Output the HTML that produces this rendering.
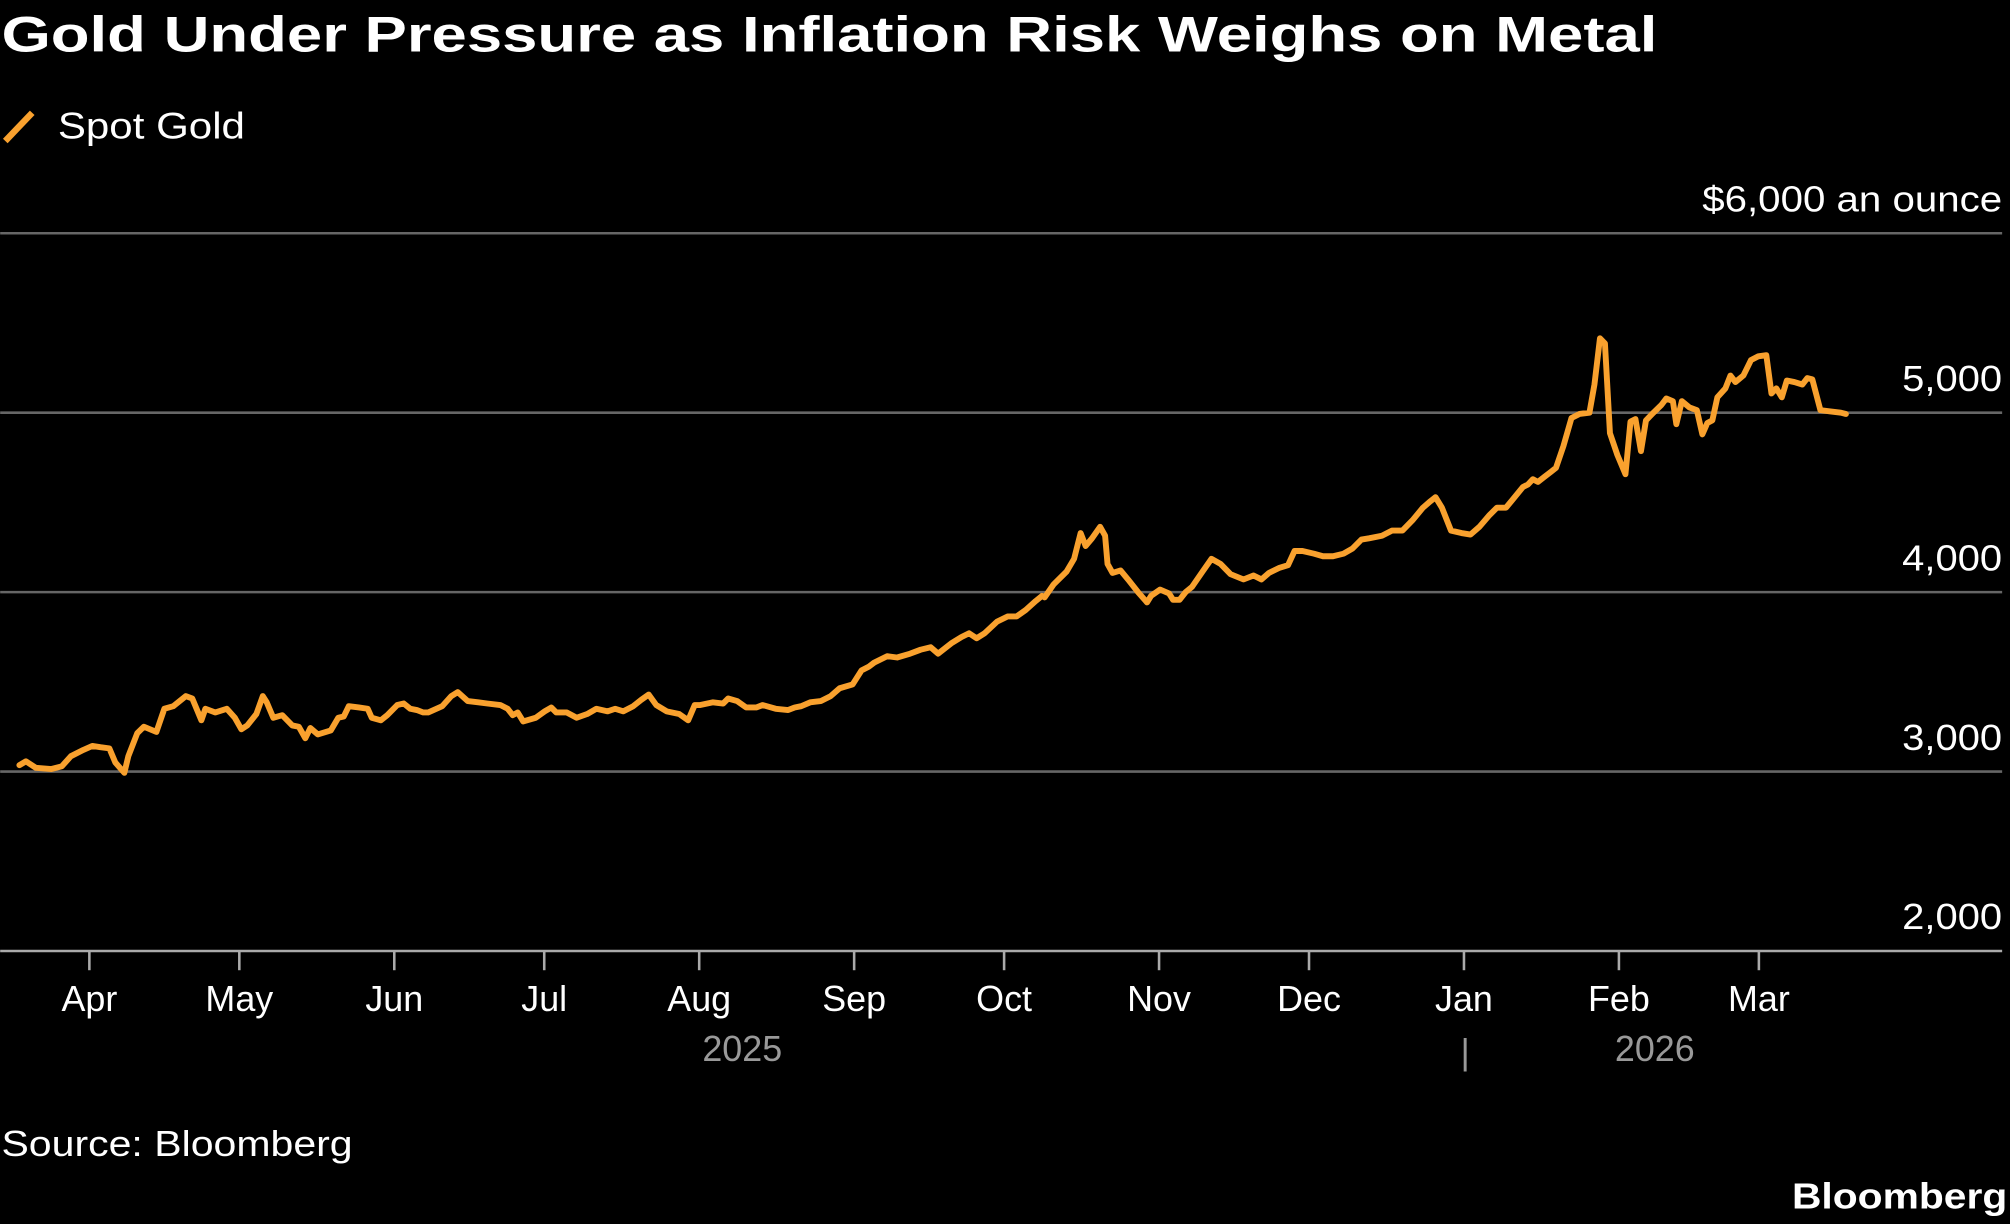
<!DOCTYPE html>
<html><head><meta charset="utf-8"><style>
html,body{margin:0;padding:0;background:#000;}
svg{display:block;}
text{font-family:"Liberation Sans",sans-serif;}
</style></head><body>
<svg id="chart" width="2010" height="1224" viewBox="0 0 1568 955" xmlns="http://www.w3.org/2000/svg">
<rect width="1568" height="955" fill="#000"/>
<text x="1" y="40" font-size="39" font-weight="bold" fill="#fff" textLength="1292" lengthAdjust="spacingAndGlyphs">Gold Under Pressure as Inflation Risk Weighs on Metal</text>
<g>
<line x1="4" y1="110" x2="25" y2="88" stroke="#f9a12e" stroke-width="5"/>
<text x="45" y="108" font-size="29" fill="#fff" textLength="146" lengthAdjust="spacingAndGlyphs">Spot Gold</text>
</g>
<text x="1562" y="165" font-size="28" fill="#fff" text-anchor="end" textLength="234" lengthAdjust="spacingAndGlyphs">$6,000 an ounce</text>
<g id="grid"></g>
<g id="xaxis"></g>
<path id="series" fill="none" stroke="#f9a12e" stroke-width="4.6" stroke-linejoin="round" stroke-linecap="round"/>
<text x="579" y="828" font-size="28" fill="#999" text-anchor="middle">2025</text>
<text x="1143" y="830" font-size="28" fill="#999" text-anchor="middle">|</text>
<text x="1291" y="828" font-size="28" fill="#999" text-anchor="middle">2026</text>
<text x="1" y="902" font-size="28" fill="#fff" textLength="274" lengthAdjust="spacingAndGlyphs">Source: Bloomberg</text>
<text x="1566" y="943" font-size="28" font-weight="bold" fill="#fff" text-anchor="end" textLength="168" lengthAdjust="spacingAndGlyphs">Bloomberg</text>
</svg>
<script>
const yTicks=[2000,3000,4000,5000,6000];
const yTickLabels=["2,000","3,000","4,000","5,000",""];
const monthLabels=["Apr","May","Jun","Jul","Aug","Sep","Oct","Nov","Dec","Jan","Feb","Mar"];
const monthDays=[14,44,75,105,136,167,197,228,258,289,320,348];
const days=[0,1.3,3.3,6.4,8.5,10.3,12.8,14.6,16.2,18,19.2,21,21.8,23.6,24.9,27.4,29,30.8,33.3,34.6,36.4,37.2,39.2,41.5,43.1,44.4,45.6,47.4,48.7,49.5,50.8,52.6,54.6,55.9,57.2,58.2,59.7,62.3,63.8,64.9,65.9,67.9,69.7,70.5,72.3,73.6,75.6,76.9,78.2,79.5,80.8,81.8,84.6,86.4,87.7,89.7,91.8,93.6,96.2,97.7,98.7,99.7,100.8,103.3,105.1,106.4,107.4,109.5,111.5,113.6,115.4,117.7,119.2,120.8,122.8,124.4,125.9,127.4,129.5,132,133.8,135.1,136.2,138.7,140.8,141.8,143.6,145.4,147.4,148.7,151.3,153.8,155.1,156.4,158.2,160.3,162.3,164.1,166.7,168.5,170,171,173.6,175.6,178.2,180.3,182.3,183.8,186.4,188.5,190,191.5,193.1,195.6,197.7,199.5,201.3,203.3,204.6,205.1,206.9,209.5,211,212.3,213.3,214.6,216.2,217.2,217.7,218.7,220.3,221.8,223.8,225.6,226.4,228.2,230,230.8,232.1,233.3,234.6,236.7,238.5,240.3,242.3,244.9,246.9,248.5,250,252.1,253.8,255.1,256.7,259,260.8,262.8,264.9,266.7,268.5,270,272.6,274.6,276.7,278.7,280.8,282.3,283.3,284.6,286.4,288.5,290.3,292.1,294.1,295.6,297.4,298.7,300.8,301.8,302.8,303.8,305.1,306.4,307.4,308.9,310.5,312.1,314.1,315.1,316.2,317.2,318.2,319.7,321.3,322.3,323.3,324.4,325.4,326.9,328.5,329.5,330.8,331.5,332.6,334.1,335.6,336.7,337.7,338.7,339.7,341.3,342.3,343.3,344.9,346.4,347.9,349.5,350.5,351.5,352.6,353.6,355.1,356.7,357.7,358.7,360.3,362.3,364.4,365.4];
const prices=[3036,3057,3021,3014,3029,3086,3121,3143,3136,3129,3050,2993,3086,3214,3250,3221,3350,3364,3421,3407,3286,3350,3329,3350,3300,3236,3257,3321,3421,3386,3300,3314,3257,3250,3186,3243,3207,3229,3300,3307,3364,3357,3350,3300,3286,3314,3371,3379,3350,3343,3329,3329,3364,3421,3443,3393,3386,3379,3371,3350,3314,3329,3279,3300,3336,3357,3329,3329,3300,3321,3350,3336,3350,3336,3364,3400,3429,3371,3336,3321,3286,3371,3371,3386,3379,3407,3393,3357,3357,3371,3350,3343,3357,3364,3386,3393,3421,3464,3486,3564,3586,3607,3643,3636,3657,3679,3693,3657,3714,3750,3771,3743,3771,3836,3864,3864,3900,3950,3979,3971,4043,4114,4186,4329,4257,4300,4364,4314,4157,4107,4121,4071,4000,3943,3979,4014,3993,3957,3957,4000,4029,4114,4186,4157,4100,4071,4093,4071,4107,4136,4150,4229,4229,4214,4200,4200,4214,4243,4293,4300,4314,4343,4343,4400,4471,4507,4529,4471,4343,4329,4321,4364,4429,4471,4471,4514,4586,4600,4629,4614,4643,4671,4693,4814,4971,4993,5000,5157,5414,5386,4886,4764,4657,4950,4964,4786,4957,5000,5043,5079,5064,4936,5064,5029,5014,4879,4943,4957,5086,5136,5207,5171,5207,5293,5314,5321,5107,5136,5086,5179,5171,5157,5193,5186,5014,5007,5000,4993];

function xScale(d){return 15+d*3.9;}
function yScale(v){return 742-(v-2000)*0.14;}
const NS="http://www.w3.org/2000/svg";
const grid=document.getElementById('grid');
yTicks.forEach((t,i)=>{
  const y=yScale(t);
  const l=document.createElementNS(NS,'line');
  l.setAttribute('x1',0);l.setAttribute('x2',1562);l.setAttribute('y1',y);l.setAttribute('y2',y);
  l.setAttribute('stroke',i===0?'#aaa':'#666');l.setAttribute('stroke-width',2);
  
  
  grid.appendChild(l);
  if(yTickLabels[i]){
    const tx=document.createElementNS(NS,'text');
    tx.setAttribute('x',1562);tx.setAttribute('y',y-17);tx.setAttribute('font-size',28);
    tx.setAttribute('fill','#fff');tx.setAttribute('text-anchor','end');
    tx.setAttribute('textLength',78);tx.setAttribute('lengthAdjust','spacingAndGlyphs');
    tx.textContent=yTickLabels[i];
    
    
    grid.appendChild(tx);
  }
});
const xa=document.getElementById('xaxis');
monthDays.forEach((d,i)=>{
  const x=xScale(d);
  const l=document.createElementNS(NS,'line');
  l.setAttribute('x1',x);l.setAttribute('x2',x);l.setAttribute('y1',742);l.setAttribute('y2',757);
  l.setAttribute('stroke','#aaa');l.setAttribute('stroke-width',2);
  
  
  xa.appendChild(l);
  const tx=document.createElementNS(NS,'text');
  tx.setAttribute('x',x);tx.setAttribute('y',789);tx.setAttribute('font-size',28);
  tx.setAttribute('fill','#fff');tx.setAttribute('text-anchor','middle');
  tx.textContent=monthLabels[i];
  
  
  xa.appendChild(tx);
});
let dpath='';
days.forEach((d,i)=>{dpath+=(i?'L':'M')+xScale(d).toFixed(1)+','+yScale(prices[i]).toFixed(1);});
document.getElementById('series').setAttribute('d',dpath);
</script>
</body></html>
